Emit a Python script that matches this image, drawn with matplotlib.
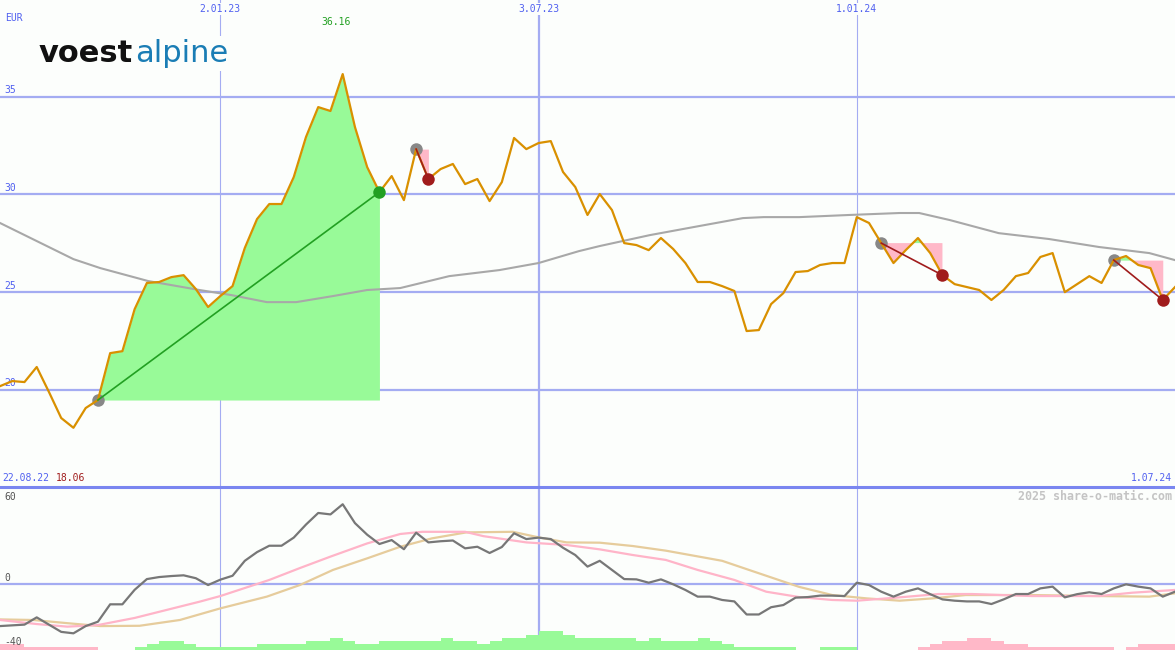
import numpy as np
import pandas as pd
import matplotlib
matplotlib.use('Agg')
import matplotlib.pyplot as plt
import matplotlib.transforms as mtransforms

# weekly closing prices in EUR, first week starts 29.08.22
start = pd.Timestamp('2022-08-29')
price = [20.19, 20.45, 20.40, 21.17, 19.89, 18.56, 18.06, 19.07, 19.48, 21.88,
         21.98, 24.13, 25.47, 25.52, 25.77, 25.87, 25.16, 24.24, 24.80, 25.31,
         27.26, 28.74, 29.51, 29.51, 30.89, 32.94, 34.47, 34.27, 36.16, 33.45,
         31.40, 30.12, 30.94, 29.71, 32.32, 30.79, 31.30, 31.56, 30.53, 30.79,
         29.66, 30.63, 32.89, 32.32, 32.63, 32.73, 31.15, 30.38, 28.95, 30.02,
         29.20, 27.51, 27.41, 27.15, 27.77, 27.21, 26.49, 25.52, 25.52, 25.31,
         25.06, 23.01, 23.06, 24.39, 24.95, 26.03, 26.08, 26.39, 26.49, 26.49,
         28.84, 28.54, 27.51, 26.49, 27.15, 27.77, 27.00, 25.87, 25.41, 25.26,
         25.11, 24.60, 25.11, 25.82, 25.98, 26.80, 27.00, 25.00, 25.41, 25.82,
         25.47, 26.64, 26.85, 26.39, 26.23, 24.60, 25.26]

# long moving average (read at some weeks)
ma_weeks = [0, 6, 8.2, 12.1, 16.3, 18.9, 21.8, 24.2, 27.2, 30, 32.7, 36.7, 40.8, 44,
            47.3, 49, 53.1, 57.1, 60.7, 62.4, 65.3, 69.4, 73.5, 75.1, 77.6, 81.6,
            85.7, 89.8, 93.9, 96]
ma_values = [28.54, 26.69, 26.23, 25.57, 25.11, 24.85, 24.49, 24.49, 24.80, 25.11,
             25.21, 25.82, 26.13, 26.49, 27.10, 27.36, 27.92, 28.38, 28.79, 28.84,
             28.84, 28.95, 29.05, 29.05, 28.69, 28.02, 27.72, 27.31, 27.00, 26.64]

# lower panel indicator
osc = [-29, -28.5, -28, -23, -28, -33, -34, -29, -26, -14,
       -14, -4, 3.4, 4.8, 5.5, 6, 4, -0.7, 3, 5.7,
       16, 22, 26.4, 26.4, 32, 41, 49, 48, 55, 42,
       34, 27.6, 30.3, 24, 35.4, 28.7, 29.5, 30, 24.6, 25.7,
       21.4, 25.5, 35, 31, 32, 31, 25, 20, 12, 16,
       9.7, 3.4, 3.2, 0.9, 3.2, -0.2, -4.1, -8.7, -8.7, -11,
       -12, -21, -21, -16, -14.5, -9.4, -9, -8, -8, -8.3,
       0.9, -0.7, -5.3, -8.7, -5.3, -3, -7, -10.6, -11.5, -12,
       -12, -13.8, -10.6, -6.9, -6.9, -3, -1.8, -9.2, -7, -5.7,
       -6.9, -3, -0.2, -1.8, -3, -8.7, -5.3]

fast_weeks = [0, 3, 5.5, 8, 11, 13.6, 16.3, 18, 22, 24.5, 27, 30, 32.7, 34.5, 38,
              39.5, 43, 46.3, 49, 51.7, 54.4, 57, 60, 62.6, 65.3, 68, 70, 73.5,
              76.7, 79.4, 84.3, 89.8, 92.5, 96]
fast_values = [-24.8, -27.6, -29.4, -28.3, -23.4, -17.9, -12.2, -8.3, 2.8, 11,
               18.9, 28, 34.5, 36, 36, 33, 28.7, 26.9, 23.9, 20,
               16.6, 9.7, 2.8, -5.3, -9, -11, -11.5, -9.2, -6.9, -6.9,
               -8.3, -8.3, -6, -4.1]

slow_weeks = [0, 2.7, 5.5, 8.2, 11.4, 14.7, 18, 21.8, 24.5, 27.2, 30, 32.7, 35.3,
              38.1, 41.9, 44.1, 46.3, 49, 51.7, 54.4, 57.1, 59, 61.2, 65.3, 68,
              70.8, 73.5, 76.2, 78.9, 84.3, 89.8, 93.9, 96]
slow_values = [-24.4, -24.8, -27, -29, -28.8, -24.8, -16.8, -8.7, -0.7, 9.7,
               17.7, 25.7, 31.5, 35.6, 36, 32, 28.7, 28.5, 26.2, 23,
               18.9, 16, 9.7, -2, -7.6, -9.9, -11.5, -9.9, -7.6, -7.6,
               -8.3, -8.7, -6.4]

# weekly histogram at the bottom (positive green, negative pink)
hist = [-4.1, -4.1, -2.3, -2.3, -2.3, -2.3, -2.3, -2.3, 0, 0,
        0, 2.3, 4.1, 6.2, 6.2, 4.1, 2.3, 2.3, 2.3, 2.3,
        2.3, 4.1, 4.1, 4.1, 4.1, 6.2, 6.2, 8.3, 6.2, 4.1,
        4.1, 6.2, 6.2, 6.2, 6.2, 6.2, 8.3, 6.2, 6.2, 4.1,
        6.2, 8.3, 8.3, 10.3, 13, 13, 10.3, 8.3, 8.3, 8.3,
        8.3, 8.3, 6.2, 8.3, 6.2, 6.2, 6.2, 8.3, 6.2, 4.1,
        2.3, 2.3, 2.3, 2.3, 2.3, 0, 0, 2.3, 2.3, 2.3,
        0, 0, 0, 0, 0, -2.3, -4.1, -6.2, -6.2, -8.3,
        -8.3, -6.2, -4.1, -4.1, -2.3, -2.3, -2.3, -2.3, -2.3, -2.3,
        -2.3, 0, -2.3, -4.1, -4.1, -4.1]

# trade signals: (entry week, exit week)
signals = [(8, 31), (34, 35), (72, 77), (91, 95)]

grid_dates = ['2023-01-02', '2023-07-03', '2024-01-01']
grid_labels = ['2.01.23', '3.07.23', '1.01.24']
price_ticks = [35, 30, 25, 20]
osc_ticks = [60, 0, -40]

bg = '#fcfefc'
blue_txt = '#5060f0'
grid_c = '#a4acf2'

def wk(w):
    return start + pd.to_timedelta(np.asarray(w, dtype=float) * 7, unit='D')

price = np.array(price)
dates = wk(np.arange(len(price)))
week = pd.Timedelta(days=7)

fig = plt.figure(figsize=(11.75, 6.5), dpi=100, facecolor=bg)
ax = fig.add_axes([0, 163 / 650, 1, 487 / 650])
ax2 = fig.add_axes([0, 0, 1, 163 / 650], sharex=ax)
for a in (ax, ax2):
    a.set_facecolor(bg)
    a.set_xticks([])
    a.set_yticks([])
    for s in a.spines.values():
        s.set_visible(False)
ax2.spines['top'].set_visible(True)
ax2.spines['top'].set_color('#7a86f0')
ax2.spines['top'].set_linewidth(2.2)

ax.set_xlim(dates[0], dates[-1])
ax.set_ylim(15.03, 39.95)
ax2.set_ylim(-45.5, 66.9)

# grid
for d, w in zip(grid_dates, [0.8, 1.6, 0.8]):
    for a in (ax, ax2):
        a.axvline(pd.Timestamp(d), color=grid_c, lw=w, zorder=0)
for t in price_ticks:
    ax.axhline(t, color=grid_c, lw=1.6, zorder=0)
ax2.axhline(0, color=grid_c, lw=1.6, zorder=0)

# signal areas
for s, e in signals:
    lvl = price[s]
    seg = price[s:e + 1]
    ax.fill_between(dates[s:e + 1], seg, lvl, where=seg >= lvl, interpolate=True,
                    color='#98fa98', lw=0, zorder=1)
    ax.fill_between(dates[s:e + 1], seg, lvl, where=seg < lvl, interpolate=True,
                    color='#ffb8c8', lw=0, zorder=1)

ax.plot(wk(ma_weeks), ma_values, color='#a8a8a8', lw=1.5, zorder=2)

for s, e in signals:
    win = price[e] > price[s]
    ax.plot(dates[s], price[s], 'o', color='#888888', ms=9, mec='none', zorder=3)
    ax.plot([dates[s], dates[e]], [price[s], price[e]],
            color='#22a022' if win else '#a01c1c', lw=1.2, zorder=5)

ax.plot(dates, price, color='#d99000', lw=1.6, zorder=4)

for s, e in signals:
    win = price[e] > price[s]
    ax.plot(dates[e], price[e], 'o', color='#22a022' if win else '#a01c1c', ms=9,
            mec='none', zorder=6)

# lower panel
bar_c = ['#98fa98' if h > 0 else '#ffb8c8' for h in hist]
ax2.bar(dates[:len(hist)], np.abs(hist), bottom=-45.5, width=week, align='edge',
        color=bar_c, lw=0, zorder=1)
ax2.plot(wk(slow_weeks), slow_values, color='#e6cc9c', lw=1.6, zorder=2)
ax2.plot(wk(fast_weeks), fast_values, color='#ffb4c8', lw=1.6, zorder=3)
ax2.plot(dates, osc, color='#777777', lw=1.6, zorder=4)

# labels
mono = 'DejaVu Sans Mono'
tr = mtransforms.blended_transform_factory(ax.transAxes, ax.transData)
for t in price_ticks:
    ax.text(0.004, t + 0.08, str(t), transform=tr, color=blue_txt, fontsize=7,
            family=mono, va='bottom', ha='left')
tr2 = mtransforms.blended_transform_factory(ax2.transAxes, ax2.transData)
for t, va in zip(osc_ticks, ['center', 'bottom', 'center']):
    ax2.text(0.004, t + (0.8 if va == 'bottom' else 0), str(t), transform=tr2,
             color='#555555', fontsize=7, family=mono, va=va, ha='left')

def px(x, y):
    return x / 1175, 1 - y / 650

for d, lab in zip(grid_dates, grid_labels):
    xx = ax.transData.transform((matplotlib.dates.date2num(pd.Timestamp(d)), 20))[0]
    fig.text(xx / 1175, 1 - 9 / 650, lab, color=blue_txt, fontsize=7, family=mono,
             ha='center', va='center',
             bbox=dict(facecolor=bg, edgecolor='none', pad=1))
fig.text(*px(5, 18), 'EUR', color=blue_txt, fontsize=7, family=mono, va='center')
fig.text(*px(336, 22), f'{price.max():.2f}', color='#22a022', fontsize=7, family=mono,
         ha='center', va='center')
fig.text(*px(2, 478), '22.08.22', color=blue_txt, fontsize=7, family=mono,
         va='center')
fig.text(*px(56, 478), f'{price.min():.2f}', color='#a01c1c', fontsize=7, family=mono,
         va='center')
fig.text(*px(1172, 478), '1.07.24', color=blue_txt, fontsize=7, family=mono,
         va='center', ha='right')
fig.text(*px(1172, 496), '2025 share-o-matic.com', color='#c4c4c4', fontsize=8.4,
         family=mono, weight='bold', va='center', ha='right')

# logo
lx, ly = px(39, 62)
v = fig.text(lx, ly, 'voest', color='#111111', fontsize=22, family='DejaVu Sans',
             weight='bold', va='baseline', ha='left', zorder=11)
fig.canvas.draw()
bb = v.get_window_extent()
fig.text((bb.x1 + 2) / 1175, ly, 'alpine', color='#1a7db5', fontsize=22,
         family='DejaVu Sans', weight='normal', va='baseline', ha='left', zorder=10,
         bbox=dict(facecolor=bg, edgecolor='none', pad=2))

fig.savefig('out.png', dpi=100, facecolor=bg)
